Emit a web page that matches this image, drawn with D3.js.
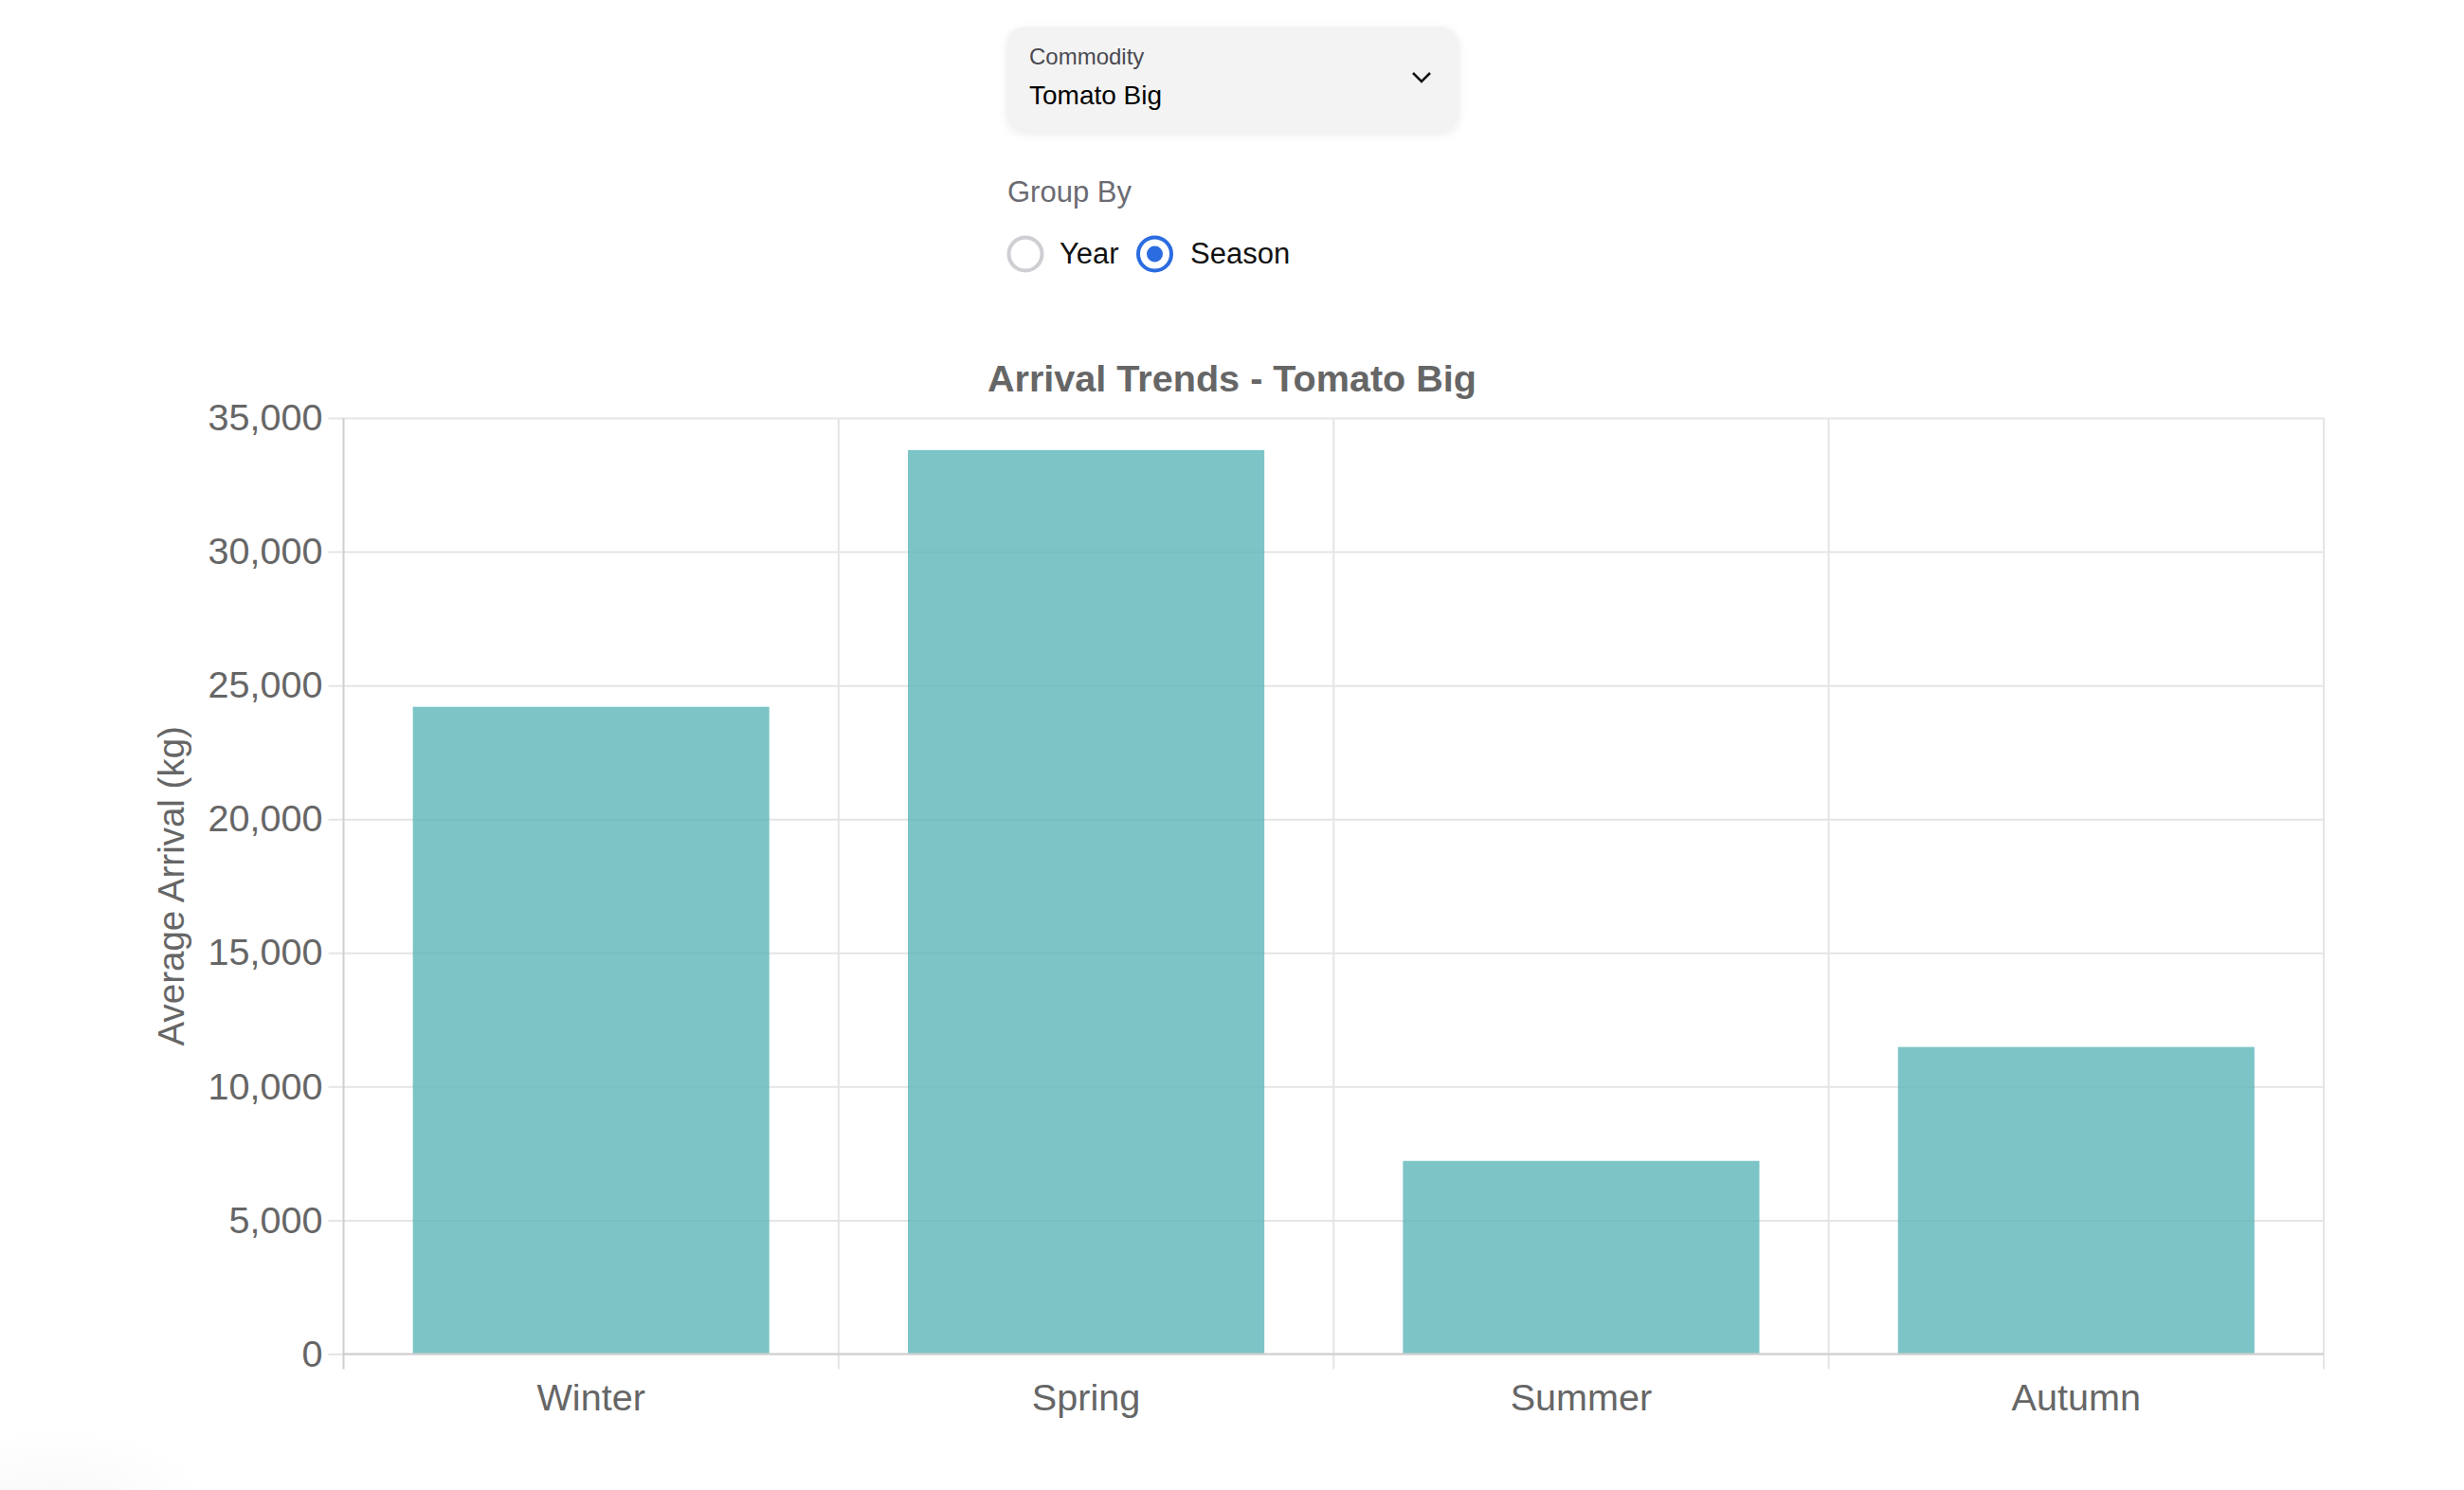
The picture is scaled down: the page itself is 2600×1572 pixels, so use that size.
<!DOCTYPE html>
<html>
<head>
<meta charset="utf-8">
<script src="https://cdn.jsdelivr.net/npm/d3@7"></script>
<style>
  html, body { margin: 0; padding: 0; background: #fff; }
  svg { display: block; }
  text { font-family: "Liberation Sans", Arial, Helvetica, sans-serif; }
</style>
</head>
<body>
<svg id="chart" width="2600" height="1572"></svg>
<script>
const categories = ["Winter", "Spring", "Summer", "Autumn"];
const arrivalValues = [24200, 33800, 7220, 11480];
const yTicks = [0, 5000, 10000, 15000, 20000, 25000, 30000, 35000];
const chartTitle = "Arrival Trends - Tomato Big";
const yAxisTitle = "Average Arrival (kg)";
const commodityLabel = "Commodity";
const commodityValue = "Tomato Big";
const groupByLabel = "Group By";
const groupOptions = ["Year", "Season"];
const selectedGroup = "Season";

(function () {
const svg = d3.select("#chart");
const defs = svg.append("defs");

// faint blob bottom-left
const rg = defs.append("radialGradient").attr("id", "blob");
rg.append("stop").attr("offset", "0%").attr("stop-color", "#000").attr("stop-opacity", 0.025);
rg.append("stop").attr("offset", "100%").attr("stop-color", "#000").attr("stop-opacity", 0);
svg.append("ellipse").attr("cx", 60).attr("cy", 1580).attr("rx", 160).attr("ry", 75).attr("fill", "url(#blob)");

const shadow = defs.append("filter").attr("id", "shadow").attr("x", "-10%").attr("y", "-20%").attr("width", "120%").attr("height", "150%");
shadow.append("feDropShadow").attr("dx", 0).attr("dy", 2).attr("stdDeviation", 4).attr("flood-color", "#000").attr("flood-opacity", 0.07);

// ---- Controls ----
const ctl = svg.append("g");
ctl.append("rect").attr("x", 1062).attr("y", 28).attr("width", 478).attr("height", 112)
  .attr("rx", 20).attr("fill", "#f3f3f3").attr("filter", "url(#shadow)");
ctl.append("text").attr("x", 1086).attr("y", 68).attr("font-size", 24).attr("fill", "#4a4a52").text(commodityLabel);
ctl.append("text").attr("x", 1086).attr("y", 110).attr("font-size", 28).attr("fill", "#000").text(commodityValue);
ctl.append("path").attr("d", "M1491,77 L1500,86 L1509,77").attr("fill", "none").attr("stroke", "#111").attr("stroke-width", 2.5);
ctl.append("text").attr("x", 1063).attr("y", 213).attr("font-size", 31).attr("fill", "#6b6b72").text(groupByLabel);

const radioX = [1082, 1218.5];
const labelX = [1118, 1256];
groupOptions.forEach((opt, i) => {
  const sel = opt === selectedGroup;
  ctl.append("circle").attr("cx", radioX[i]).attr("cy", 268).attr("r", 17.5)
    .attr("fill", "#fff").attr("stroke", sel ? "#2b6ce0" : "#cfcfd3").attr("stroke-width", 4);
  if (sel) ctl.append("circle").attr("cx", radioX[i]).attr("cy", 268).attr("r", 8.5).attr("fill", "#2b6ce0");
  ctl.append("text").attr("x", labelX[i]).attr("y", 278).attr("font-size", 31).attr("fill", "#111").text(opt);
});

// ---- Chart ----
const pLeft = 362.5, pRight = 2452, pTop = 441, pBottom = 1428.5;
const W = pRight - pLeft;
const fs = 39.6;

const x = d3.scaleBand().domain(categories).range([pLeft, pRight]).paddingInner(0.28).paddingOuter(0.14);
const y = d3.scaleLinear().domain([0, 35000]).range([pBottom, pTop]);
const step = x.step();

svg.append("text").attr("x", 1300).attr("y", 413).attr("text-anchor", "middle")
  .attr("font-size", fs).attr("font-weight", "bold").attr("fill", "#666").text(chartTitle);

// horizontal gridlines (with left tick extension)
const hg = svg.append("g").attr("transform", `translate(${pRight},0)`)
  .call(d3.axisLeft(y).tickValues(yTicks).tickSize(W + 16).tickFormat(""));
hg.select(".domain").remove();
hg.selectAll(".tick line").attr("stroke", "#e5e5e5").attr("stroke-width", 2);

// vertical gridlines at category boundaries
const bounds = d3.range(categories.length + 1).map(i => pLeft + i * step);
svg.append("g").selectAll("line").data(bounds).join("line")
  .attr("x1", d => d).attr("x2", d => d).attr("y1", pTop).attr("y2", pBottom + 16)
  .attr("stroke", (d, i) => i === 0 ? "#cfcfcf" : "#e5e5e5").attr("stroke-width", 2);

// bars
svg.append("g").selectAll("rect").data(categories).join("rect")
  .attr("x", d => x(d)).attr("width", x.bandwidth())
  .attr("y", (d, i) => y(arrivalValues[i]))
  .attr("height", (d, i) => pBottom - y(arrivalValues[i]))
  .attr("fill", "rgb(91,181,184)").attr("fill-opacity", 0.8);

// x axis line
svg.append("line").attr("x1", pLeft).attr("x2", pRight).attr("y1", pBottom).attr("y2", pBottom)
  .attr("stroke", "#cfcfcf").attr("stroke-width", 2);

// y tick labels
const ya = svg.append("g").attr("transform", `translate(${pLeft},0)`)
  .call(d3.axisLeft(y).tickValues(yTicks).tickSize(0).tickPadding(22).tickFormat(d3.format(",")));
ya.select(".domain").remove();
ya.selectAll("text").attr("font-size", fs).attr("fill", "#666")
  .style("font-family", '"Liberation Sans", Arial, Helvetica, sans-serif');

// x tick labels
const xa = svg.append("g").attr("transform", `translate(0,${pBottom})`)
  .call(d3.axisBottom(x).tickSize(0).tickPadding(31.7));
xa.select(".domain").remove();
xa.selectAll("text").attr("font-size", fs).attr("fill", "#666")
  .style("font-family", '"Liberation Sans", Arial, Helvetica, sans-serif');

// y axis title
svg.append("text").attr("transform", `translate(194,${(pTop + pBottom) / 2}) rotate(-90)`)
  .attr("text-anchor", "middle").attr("font-size", 38.5).attr("fill", "#666").text(yAxisTitle);
})();
</script>
</body>
</html>
